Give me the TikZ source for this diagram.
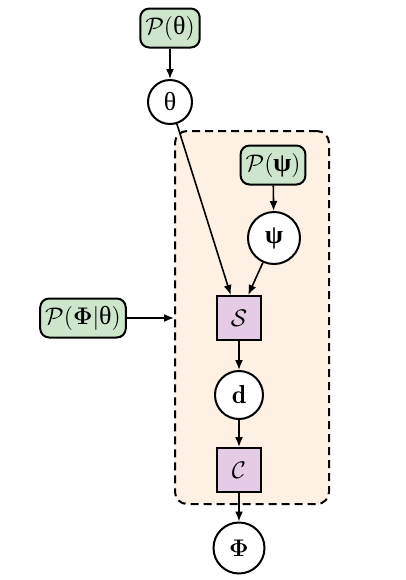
\documentclass[tikz,border=0pt]{standalone}
\usepackage{amsmath,amssymb}
\usepackage{fontspec}
\newfontfamily\grk{Liberation Serif}
\usetikzlibrary{arrows.meta,calc}
\definecolor{priorgreen}{HTML}{CDE6CB}
\definecolor{opviolet}{HTML}{E5CBE5}
\definecolor{platefill}{HTML}{FEF1E4}
\newcommand{\gth}{\text{\grk θ}}
\newcommand{\gps}{\text{\grk\bfseries ψ}}
\begin{document}
\begin{tikzpicture}[x=0.5pt,y=-0.5pt,
  every node/.style={font=\fontsize{13}{15}\selectfont},
  prior/.style={draw,line width=1pt,fill=priorgreen,rounded corners=4.5pt,minimum height=19.5pt,inner xsep=2.5pt},
  var/.style={draw,line width=1pt,fill=white,circle,minimum size=22pt,inner sep=0pt},
  op/.style={draw,line width=1pt,fill=opviolet,minimum size=22pt,inner sep=0pt},
  plate/.style={draw,line width=1pt,dashed,dash pattern=on 4pt off 2.5pt,rounded corners=6pt,fill=platefill,minimum width=77pt,minimum height=186.5pt},
  arr/.style={-{Latex[length=5pt,width=4pt]},line width=0.8pt}]
\useasboundingbox (0,0) rectangle (406,580);
\node[plate] (plate) at (252,317.5) {};
\node[prior] (pth) at (170,28) {$\mathcal{P}(\gth)$};
\node[var] (th) at (170,102) {$\gth$};
\node[prior] (pps) at (273,165) {$\mathcal{P}(\gps)$};
\node[var,minimum size=26pt] (ps) at (274,238) {$\gps$};
\node[op] (S) at (239,318) {$\mathcal{S}$};
\node[prior] (pph) at (83,318) {$\mathcal{P}(\boldsymbol{\Phi}|\gth)$};
\node[var,minimum size=24pt] (d) at (239,395) {$\mathbf{d}$};
\node[op] (C) at (239,470) {$\mathcal{C}$};
\node[var,minimum size=25.5pt] (ph) at (239,548) {$\boldsymbol{\Phi}$};
\draw[arr] (pth) -- (th);
\draw[arr] (pps) -- (ps);
\draw[arr] (th) -- ($(S.north west)!0.32!(S.north east)$);
\draw[arr] (ps) -- ($(S.north west)!0.7!(S.north east)$);
\draw[arr] (pph.east) -- (plate.west |- pph.east);
\draw[arr] (S) -- (d);
\draw[arr] (d) -- (C);
\draw[arr] (C) -- (ph);
\end{tikzpicture}
\end{document}
